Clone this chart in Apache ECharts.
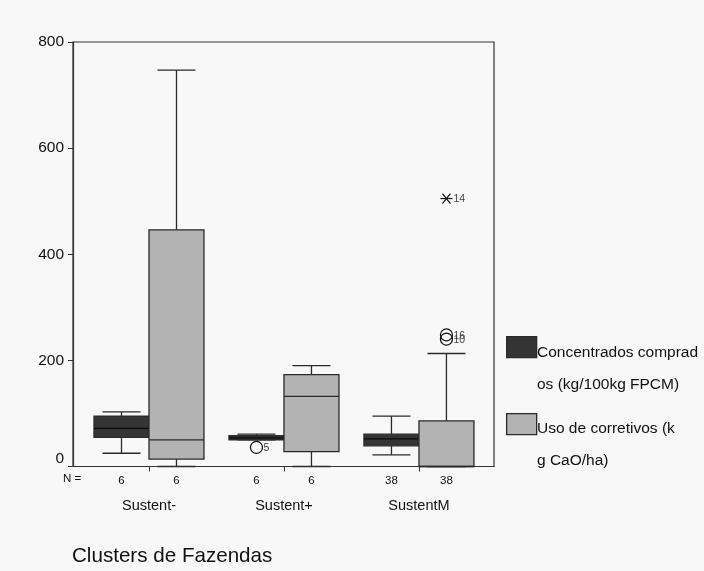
<!DOCTYPE html>
<html>
<head>
<meta charset="utf-8">
<script src="https://cdn.jsdelivr.net/npm/echarts@6/dist/echarts.min.js"></script>
<style>
  html, body { margin: 0; padding: 0; background: #f8f8f8; }
  #chart { width: 704px; height: 571px; }
</style>
</head>
<body>
<div id="chart"></div>
<script>
// grupos (clusters) e dados
var categories = ['Sustent-', 'Sustent+', 'SustentM'];
// [indice, min whisker, Q1, mediana, Q3, max whisker]
var concentrados = [
  [0, 25, 55, 72, 95, 103],
  [1, 50, 50, 54, 58, 61],
  [2, 22, 39, 52, 61, 95]
];
var corretivos = [
  [0, 0, 14, 50, 446, 747],
  [1, 0, 28, 132, 173, 190],
  [2, 0, 0, 0, 86, 213]
];
var nCounts = [[6, 6], [6, 6], [38, 38]];
// [indice grupo, serie (0 = concentrados, 1 = corretivos), valor, rotulo, tipo]
var outliers = [
  [1, 0, 36, '5', 'o'],
  [2, 1, 248, '16', 'o'],
  [2, 1, 240, '10', 'o'],
  [2, 1, 505, '14', '*']
];
var yTicks = [0, 200, 400, 600, 800];
var legendNames = ['Concentrados comprad\nos (kg/100kg FPCM)', 'Uso de corretivos (k\ng CaO/ha)'];

var FONT = '"Liberation Sans", Arial, sans-serif';
var DARK = '#343434';
var LIGHT = '#b3b3b3';
var LINE = '#2a2a2a';
var BW = 55 / 135;   // largura da caixa em unidades do eixo

function boxRender(side, fill, nIdx) {
  return function (params, api) {
    var c = api.value(0);
    var lo = api.value(1), q1 = api.value(2), md = api.value(3), q3 = api.value(4), hi = api.value(5);
    var xa = side < 0 ? c - BW : c;
    var xb = side < 0 ? c : c + BW;
    var xm = (xa + xb) / 2;
    var pLo = api.coord([xm, lo]), pHi = api.coord([xm, hi]);
    var pQ1 = api.coord([xm, q1]), pQ3 = api.coord([xm, q3]), pMd = api.coord([xm, md]);
    var left = api.coord([xa, q3])[0], right = api.coord([xb, q3])[0];
    var base = api.coord([xm, 0]);
    var cap = 19;
    var st = { stroke: LINE, lineWidth: 1.3 };
    var kids = [
      { type: 'line', shape: { x1: pLo[0], y1: pLo[1], x2: pQ1[0], y2: pQ1[1] }, style: st },
      { type: 'line', shape: { x1: pQ3[0], y1: pQ3[1], x2: pHi[0], y2: pHi[1] }, style: st },
      { type: 'line', shape: { x1: pLo[0] - cap, y1: pLo[1], x2: pLo[0] + cap, y2: pLo[1] }, style: st },
      { type: 'line', shape: { x1: pHi[0] - cap, y1: pHi[1], x2: pHi[0] + cap, y2: pHi[1] }, style: st },
      { type: 'rect', shape: { x: left, y: pQ3[1], width: right - left, height: Math.max(pQ1[1] - pQ3[1], 1) },
        style: { fill: fill, stroke: LINE, lineWidth: 1.3 } },
      { type: 'line', shape: { x1: left, y1: pMd[1], x2: right, y2: pMd[1] },
        style: { stroke: side < 0 ? '#0a0a0a' : LINE, lineWidth: 1.3 } },
      { type: 'text', x: base[0], y: base[1] + 14,
        style: { text: String(nCounts[c][nIdx]), fill: '#111', font: '11.5px ' + FONT, align: 'center', verticalAlign: 'middle' } }
    ];
    return { type: 'group', children: kids };
  };
}

function outlierRender(params, api) {
  var c = api.value(0), s = api.value(1), v = api.value(2);
  var d = outliers[params.dataIndex];
  var x = s === 0 ? c - BW / 2 : c + BW / 2;
  var p = api.coord([x, v]);
  var st = { stroke: '#111', lineWidth: 1.2, fill: null };
  var kids = [];
  if (d[4] === 'o') {
    kids.push({ type: 'circle', shape: { cx: p[0], cy: p[1], r: 6 }, style: st });
  } else {
    kids.push({ type: 'line', shape: { x1: p[0] - 6, y1: p[1], x2: p[0] + 6, y2: p[1] }, style: st });
    kids.push({ type: 'line', shape: { x1: p[0] - 4, y1: p[1] - 5, x2: p[0] + 4, y2: p[1] + 5 }, style: st });
    kids.push({ type: 'line', shape: { x1: p[0] - 4, y1: p[1] + 5, x2: p[0] + 4, y2: p[1] - 5 }, style: st });
  }
  kids.push({ type: 'text', x: p[0] + 7, y: p[1] + 1,
    style: { text: d[3], fill: '#444', font: '10.5px ' + FONT, align: 'left', verticalAlign: 'middle' } });
  return { type: 'group', children: kids };
}

var myChart = echarts.init(document.getElementById('chart'));
var option = {
  backgroundColor: '#f8f8f8',
  animation: false,
  grid: {
    left: 73, right: 210, top: 42, bottom: 104.5,
    show: true, borderColor: '#333', borderWidth: 1.2, backgroundColor: 'transparent'
  },
  xAxis: {
    type: 'value', min: -0.563, max: 2.556,
    axisLine: { show: true, onZero: false, lineStyle: { color: '#333', width: 1.2 } },
    axisTick: { show: true, customValues: [0, 1, 2], length: 5, lineStyle: { color: '#333' } },
    axisLabel: {
      customValues: [0, 1, 2], margin: 32, color: '#111', fontSize: 14.5, fontFamily: FONT,
      formatter: function (v) { return categories[Math.round(v)]; }
    },
    splitLine: { show: false }
  },
  yAxis: {
    type: 'value', min: 0, max: 800, interval: 200,
    axisLine: { show: true, onZero: false, lineStyle: { color: '#333', width: 1.2 } },
    axisTick: { show: true, length: 5, lineStyle: { color: '#333' } },
    axisLabel: {
      customValues: yTicks, margin: 9, color: '#111', fontSize: 15.5, fontFamily: FONT,
      formatter: function (v) { return v === 0 ? '{z|0}' : String(v); },
      rich: { z: { fontSize: 15.5, fontFamily: FONT, color: '#111', padding: [0, 0, 15, 0] } }
    },
    splitLine: { show: false }
  },
  graphic: [
    { type: 'text', left: 63, top: 473, style: { text: 'N =', fill: '#111', font: '11.5px ' + FONT } },
    { type: 'text', left: 72, top: 546, style: { text: 'Clusters de Fazendas', fill: '#111', font: '20.6px ' + FONT } },
    { type: 'rect', left: 506, top: 336, shape: { width: 30, height: 21 }, style: { fill: DARK, stroke: LINE, lineWidth: 1.3 } },
    { type: 'text', left: 537, top: 337, style: { text: legendNames[0], fill: '#111', font: '15.5px ' + FONT, lineHeight: 32 } },
    { type: 'rect', left: 506, top: 413, shape: { width: 30, height: 21 }, style: { fill: LIGHT, stroke: LINE, lineWidth: 1.3 } },
    { type: 'text', left: 537, top: 412.5, style: { text: legendNames[1], fill: '#111', font: '15.5px ' + FONT, lineHeight: 32 } }
  ],
  series: [
    { type: 'custom', name: 'Concentrados', data: concentrados, renderItem: boxRender(-1, DARK, 0), clip: false },
    { type: 'custom', name: 'Corretivos', data: corretivos, renderItem: boxRender(1, LIGHT, 1), clip: false },
    { type: 'custom', name: 'Outliers', data: outliers.map(function (o) { return [o[0], o[1], o[2]]; }),
      renderItem: outlierRender, clip: false }
  ]
};
myChart.setOption(option);
</script>
</body>
</html>
